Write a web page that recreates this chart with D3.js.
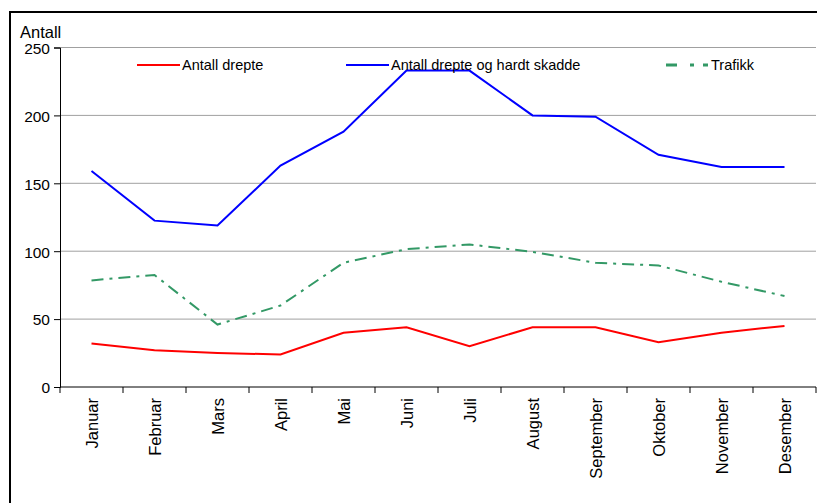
<!DOCTYPE html>
<html>
<head>
<meta charset="utf-8">
<script src="https://cdn.jsdelivr.net/npm/d3@7"></script>
<style>
  body { margin: 0; background: #fff; }
  svg { display: block; font-family: "Liberation Sans", Arial, sans-serif; }
</style>
</head>
<body>
<svg width="817" height="503"></svg>
<script>
// months on the x axis
var months = ["Januar","Februar","Mars","April","Mai","Juni","Juli","August","September","Oktober","November","Desember"];
// series
var drepte       = [32, 27, 25, 24, 40, 44, 30, 44, 44, 33, 40, 45];
var hardtSkadde  = [159, 122.5, 119, 163, 188, 233, 233, 200, 199, 171, 162, 162];
var trafikk      = [78.5, 82.5, 46, 60, 91.5, 101.5, 105, 99.5, 91.5, 89.5, 77.5, 67];
var yTicks       = [0, 50, 100, 150, 200, 250];
var seriesNames  = ["Antall drepte", "Antall drepte og hardt skadde", "Trafikk"];

var svg = d3.select("svg");

// frame around the whole chart
svg.append("rect")
   .attr("x", 10).attr("y", 12)
   .attr("width", 830).attr("height", 510)
   .attr("fill", "none")
   .attr("stroke", "#000")
   .attr("stroke-width", 2);

// plot area (named so it does not clash with window.top)
var plotLeft = 60, plotRight = 816, plotTop = 47.5, plotBottom = 387;

var x = d3.scaleBand().domain(months).range([plotLeft, plotRight]);
var y = d3.scaleLinear().domain([0, 250]).range([plotBottom, plotTop]);

// gridlines
svg.append("g").selectAll("line").data(yTicks.filter(function(d){ return d > 0; }))
   .enter().append("line")
   .attr("x1", plotLeft).attr("x2", plotRight)
   .attr("y1", function(d){ return y(d); })
   .attr("y2", function(d){ return y(d); })
   .attr("stroke", "#a0a0a0")
   .attr("stroke-width", 1);

// y axis
var yAxis = svg.append("g")
   .attr("transform", "translate(" + plotLeft + ",0)")
   .call(d3.axisLeft(y).tickValues(yTicks).tickSize(6).tickPadding(4));
yAxis.select(".domain").attr("stroke", "#000");
yAxis.selectAll("text")
   .attr("font-size", 15.5)
   .attr("dy", "0.38em")
   .attr("fill", "#000")
   .attr("font-family", "Liberation Sans, Arial, sans-serif");

// x axis, ticks between categories
var xAxis = svg.append("g")
   .attr("transform", "translate(0," + plotBottom + ")");
xAxis.append("line")
   .attr("x1", plotLeft).attr("x2", plotRight)
   .attr("stroke", "#000");
xAxis.selectAll(".tk").data(d3.range(months.length + 1))
   .enter().append("line")
   .attr("class", "tk")
   .attr("x1", function(i){ return plotLeft + i * x.step(); })
   .attr("x2", function(i){ return plotLeft + i * x.step(); })
   .attr("y1", 0).attr("y2", 6)
   .attr("stroke", "#000");
xAxis.selectAll("text").data(months)
   .enter().append("text")
   .attr("transform", function(d){
     return "translate(" + (x(d) + x.bandwidth() / 2 + 6) + ",11) rotate(-90)";
   })
   .attr("text-anchor", "end")
   .attr("font-size", 16.5)
   .text(function(d){ return d; });

// y axis title
svg.append("text")
   .attr("x", 20).attr("y", 38)
   .attr("font-size", 16.5)
   .text("Antall");

var line = d3.line()
   .x(function(d, i){ return x(months[i]) + x.bandwidth() / 2; })
   .y(function(d){ return y(d); });

var styles = [
  {data: drepte,      color: "#ff0000", dash: null},
  {data: hardtSkadde, color: "#0000ff", dash: null},
  {data: trafikk,     color: "#339966", dash: "12,6,3,6"}
];

styles.forEach(function(s){
  svg.append("path")
     .datum(s.data)
     .attr("d", line)
     .attr("fill", "none")
     .attr("stroke", s.color)
     .attr("stroke-width", 2)
     .attr("stroke-dasharray", s.dash);
});

// legend
var legendX = [137, 346, 666];
var legend = svg.append("g");
styles.forEach(function(s, i){
  legend.append("line")
     .attr("x1", legendX[i]).attr("x2", legendX[i] + 43)
     .attr("y1", 65).attr("y2", 65)
     .attr("stroke", s.color)
     .attr("stroke-width", i == 2 ? 3 : 2)
     .attr("stroke-dasharray", i == 2 ? "11,13,4,9,5" : null);
  legend.append("text")
     .attr("x", legendX[i] + 45)
     .attr("y", 70)
     .attr("font-size", 14.5)
     .text(seriesNames[i]);
});
</script>
</body>
</html>
